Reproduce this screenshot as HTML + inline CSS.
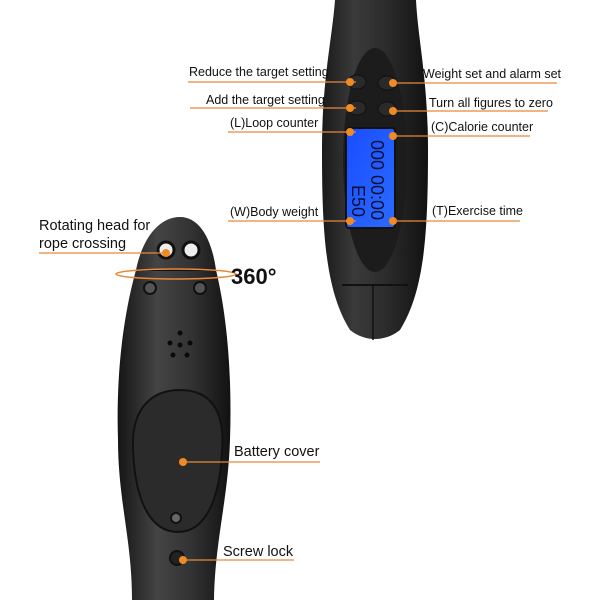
<!DOCTYPE html>
<html><head><style>body{margin:0;background:#fff}svg{display:block}text{font-family:"Liberation Sans",Arial,sans-serif;fill:#111}</style></head><body>
<svg width="600" height="600" viewBox="0 0 600 600" xmlns="http://www.w3.org/2000/svg">
<defs>
<linearGradient id="g1" x1="0" x2="1"><stop offset="0" stop-color="#1a1a1a"/><stop offset=".3" stop-color="#3a3a3a"/><stop offset=".6" stop-color="#2c2c2c"/><stop offset="1" stop-color="#111"/></linearGradient>
<linearGradient id="g2" x1="0" x2="1"><stop offset="0" stop-color="#151515"/><stop offset=".35" stop-color="#444"/><stop offset=".65" stop-color="#333"/><stop offset="1" stop-color="#121212"/></linearGradient>
<linearGradient id="lcd" x1="0" y1="0" x2="1" y2="1"><stop offset="0" stop-color="#1a4dff"/><stop offset="1" stop-color="#2a6bff"/></linearGradient>
</defs>
<!-- right device -->
<path d="M335 0 L416 0 C418 40 428 80 428 150 C428 230 425 290 400 330 C385 342 365 342 350 330 C325 290 322 230 322 150 C322 80 332 40 335 0Z" fill="url(#g1)"/>
<ellipse cx="375" cy="160" rx="32" ry="112" fill="#1c1c1c"/>
<rect x="346" y="128" width="49" height="100" rx="3" fill="url(#lcd)" stroke="#111" stroke-width="2"/>
<text transform="translate(371,140) rotate(90)" font-size="18" style="fill:#0a1030">000 00:00</text>
<text transform="translate(352,185) rotate(90)" font-size="18" style="fill:#0a1030">E50</text>
<ellipse cx="357" cy="82" rx="9" ry="7" fill="#2a2a2a" stroke="#111"/>
<ellipse cx="387" cy="83" rx="9" ry="7" fill="#2a2a2a" stroke="#111"/>
<ellipse cx="357" cy="108" rx="9" ry="7" fill="#2a2a2a" stroke="#111"/>
<ellipse cx="387" cy="109" rx="9" ry="7" fill="#2a2a2a" stroke="#111"/>
<path d="M342 285 L408 285" stroke="#111" stroke-width="2"/><path d="M373 285 L373 340" stroke="#111" stroke-width="1.5"/>
<!-- left device -->
<path d="M180 217 C200 217 212 240 216 270 C228 320 232 380 230 440 C228 500 215 540 214 600 L132 600 C132 540 118 500 118 440 C116 380 122 320 136 270 C142 240 158 217 180 217Z" fill="url(#g2)"/>
<path d="M137 270 L215 270" stroke="#111" stroke-width="2"/>
<circle cx="166" cy="250" r="8" fill="#eee" stroke="#111" stroke-width="3"/><circle cx="191" cy="250" r="8" fill="#eee" stroke="#111" stroke-width="3"/>
<circle cx="150" cy="288" r="6" fill="#555" stroke="#111" stroke-width="2"/><circle cx="200" cy="288" r="6" fill="#555" stroke="#111" stroke-width="2"/>
<g fill="#0a0a0a"><circle cx="180" cy="333" r="2.5"/><circle cx="170" cy="343" r="2.5"/><circle cx="180" cy="345" r="2.5"/><circle cx="190" cy="343" r="2.5"/><circle cx="173" cy="355" r="2.5"/><circle cx="187" cy="355" r="2.5"/></g>
<path d="M180 390 C210 390 225 410 222 450 C220 500 205 532 178 532 C150 532 135 500 133 450 C131 410 150 390 180 390Z" fill="#2b2b2b" stroke="#111" stroke-width="2"/>
<circle cx="176" cy="518" r="5" fill="#666" stroke="#111" stroke-width="2"/>
<circle cx="177" cy="558" r="7" fill="#222" stroke="#111" stroke-width="2"/>
<ellipse cx="176" cy="274" rx="60" ry="5" fill="none" stroke="#e8893a" stroke-width="1.5"/>
<!-- labels -->
<g stroke="#e8893a" stroke-width="1.3" fill="none">
<path d="M188 82 H356"/><path d="M190 108 H356"/><path d="M228 132 H356"/><path d="M228 221 H356"/>
<path d="M393 83 H557"/><path d="M393 111 H548"/><path d="M393 136 H530"/><path d="M393 221 H520"/>
<path d="M39 253 H167"/><path d="M183 462 H320"/><path d="M183 560 H294"/>
</g>
<g fill="#f08a24">
<circle cx="350" cy="82" r="4"/><circle cx="350" cy="108" r="4"/><circle cx="350" cy="132" r="4"/><circle cx="350" cy="221" r="4"/>
<circle cx="393" cy="83" r="4"/><circle cx="393" cy="111" r="4"/><circle cx="393" cy="136" r="4"/><circle cx="393" cy="221" r="4"/>
<circle cx="166" cy="253" r="4"/><circle cx="183" cy="462" r="4"/><circle cx="183" cy="560" r="4"/>
</g>
<g font-size="12.5">
<text x="189" y="76">Reduce the target setting</text>
<text x="206" y="104">Add the target setting</text>
<text x="230" y="127">(L)Loop counter</text>
<text x="230" y="216">(W)Body weight</text>
<text x="423" y="78">Weight set and alarm set</text>
<text x="429" y="107">Turn all figures to zero</text>
<text x="431" y="131">(C)Calorie counter</text>
<text x="432" y="215">(T)Exercise time</text>
</g>
<g font-size="14.5">
<text x="39" y="230">Rotating head for</text>
<text x="39" y="248">rope crossing</text>
<text x="234" y="456">Battery cover</text>
<text x="223" y="556">Screw lock</text>
</g>
<text x="231" y="284" font-size="22" font-weight="bold">360°</text>
</svg>
</body></html>
